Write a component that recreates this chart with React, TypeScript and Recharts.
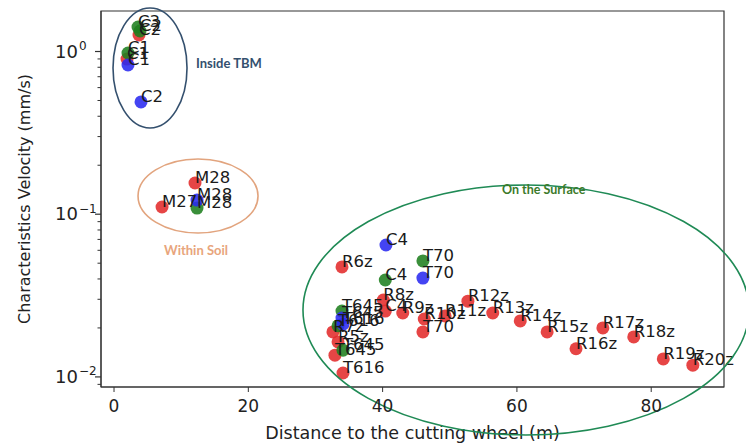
import { ScatterChart, Scatter, XAxis, YAxis, ReferenceDot, ReferenceArea } from 'recharts';

// distance to the cutting wheel (m), characteristic velocity (mm/s), point labels
const redLabels = ['C2', 'C1', 'M28', 'M27', 'R6z', 'R8z', 'C4', 'R9z', 'R10z', 'R11z', 'T70', 'R12z', 'R13z', 'R14z', 'R15z', 'R16z', 'R17z', 'R18z', 'R19z', 'R20z', 'R7z', 'R5z', 'T645', 'T616'];
const redDist = [3.72, 1.94, 12.06, 7.15, 33.95, 40.1, 40.4, 43.0, 46.2, 49.3, 46.0, 52.7, 56.4, 60.5, 64.5, 68.8, 72.8, 77.4, 81.8, 86.2, 32.6, 33.36, 32.9, 34.1];
const redVel = [1.263, 0.899, 0.1555, 0.1107, 0.0474, 0.0297, 0.0254, 0.0247, 0.0227, 0.0237, 0.0189, 0.0292, 0.0247, 0.0221, 0.0189, 0.0149, 0.02, 0.0176, 0.0129, 0.0118, 0.0189, 0.0164, 0.0136, 0.01057];

const greenLabels = ['C3', 'C2', 'C1', 'M28', 'T70', 'C4', 'T645', 'T616', 'T645'];
const greenDist = [3.57, 3.87, 2.08, 12.36, 46.0, 40.4, 33.95, 33.36, 34.1];
const greenVel = [1.414, 1.337, 0.979, 0.109, 0.0516, 0.0394, 0.0254, 0.0206, 0.0146];

const blueLabels = ['C1', 'C2', 'M28', 'C4', 'T70', 'T645', 'T616'];
const blueDist = [2.08, 4.02, 12.36, 40.5, 46.0, 33.95, 34.1];
const blueVel = [0.826, 0.49, 0.1222, 0.0647, 0.0405, 0.023, 0.0211];

const xTicks = [0, 20, 40, 60, 80];
const yMajor = [1, 0.1, 0.01];
const yMinor = [0.009, 0.02, 0.03, 0.04, 0.05, 0.06, 0.07, 0.08, 0.09, 0.2, 0.3, 0.4, 0.5, 0.6, 0.7, 0.8, 0.9];
const yExp: Record<string, string> = { '1': '0', '0.1': '\u22121', '0.01': '\u22122' };

const toPoints = (labels: string[], xs: number[], ys: number[]) =>
  labels.map((label, i) => ({ x: xs[i], y: ys[i], label }));

const red = toPoints(redLabels, redDist, redVel);
const green = toPoints(greenLabels, greenDist, greenVel);
const blue = toPoints(blueLabels, blueDist, blueVel);
const all = [...red, ...green, ...blue];

const FONT = 'DejaVu Sans, sans-serif';
const X_DOMAIN = [-1.94, 90.84];
const Y_DOMAIN = [0.00867, 1.774];

const dot = (color: string) => (props: any) => (
  <circle cx={props.cx} cy={props.cy} r={6.5} fill={color} fillOpacity={0.88} />
);

const labelShape = (props: any) => (
  <text x={props.cx} y={props.cy} fontSize={16.5} fontFamily={FONT} fill="#1a1a1a">
    {props.payload.label}
  </text>
);

const ellipse = (rx: number, ry: number, color: string) => (props: any) => (
  <ellipse cx={props.cx} cy={props.cy} rx={rx} ry={ry} fill="none" stroke={color} strokeWidth={1.6} />
);

const note = (text: string, color: string, size: number) => (props: any) => (
  <text x={props.cx} y={props.cy} fontSize={size} fontWeight={700} fontFamily="Lato, sans-serif" fill={color}>
    {text}
  </text>
);

const YTick = (props: any) => {
  const { x, y, payload } = props;
  const v = payload.value;
  const major = yMajor.some((m) => Math.abs(m - v) < 1e-9);
  if (!major) {
    return <line x1={x - 3.5} x2={x} y1={y} y2={y} stroke="#333" strokeWidth={1} />;
  }
  return (
    <g>
      <line x1={x - 6} x2={x} y1={y} y2={y} stroke="#333" strokeWidth={1.2} />
      <text x={x - 23} y={y + 6} textAnchor="end" fontSize={18} fontFamily={FONT} fill="#222">10</text>
      <text x={x - 22} y={y - 1.5} fontSize={12} fontFamily={FONT} fill="#222">{yExp[String(v)]}</text>
    </g>
  );
};

const yTitle = (props: any) => {
  const vb = props.viewBox;
  const cx = 24;
  const cy = vb.y + vb.height / 2;
  return (
    <text x={cx} y={cy} transform={`rotate(-90 ${cx} ${cy})`} textAnchor="middle" dominantBaseline="central"
      fontSize={16} fontFamily={FONT} fill="#222">
      Characteristics Velocity (mm/s)
    </text>
  );
};

const xTitle = (props: any) => {
  const vb = props.viewBox;
  return (
    <text x={vb.x + vb.width / 2} y={vb.y + 52} textAnchor="middle" fontSize={17.5} fontFamily={FONT} fill="#222">
      Distance to the cutting wheel (m)
    </text>
  );
};

export default function App() {
  return (
    <div style={{ position: 'absolute', left: 0, top: 0, background: '#fff' }}>
      <ScatterChart width={746} height={444} margin={{ top: 11, right: 22, bottom: 0, left: 0 }}>
        <XAxis
          type="number"
          dataKey="x"
          domain={X_DOMAIN}
          ticks={xTicks}
          interval={0}
          height={57}
          tickSize={5}
          tickMargin={8}
          stroke="#333"
          tick={{ fill: '#222', fontSize: 17, fontFamily: FONT }}
          label={{ content: xTitle }}
        />
        <YAxis
          type="number"
          dataKey="y"
          scale="log"
          domain={Y_DOMAIN}
          ticks={[...yMajor, ...yMinor]}
          interval={0}
          width={101}
          tickSize={0}
          tickMargin={0}
          tickLine={false}
          stroke="#333"
          tick={<YTick />}
          label={{ content: yTitle }}
        />
        <ReferenceArea x1={X_DOMAIN[0]} x2={X_DOMAIN[1]} y1={Y_DOMAIN[0]} y2={Y_DOMAIN[1]}
          fill="none" stroke="#333" strokeWidth={1.2} ifOverflow="visible" />
        <Scatter data={red} fill="#e32b2b" shape={dot('#e32b2b')} isAnimationActive={false} />
        <Scatter data={green} fill="#1f7f1f" shape={dot('#1f7f1f')} isAnimationActive={false} />
        <Scatter data={blue} fill="#2a2af0" shape={dot('#2a2af0')} isAnimationActive={false} />
        <Scatter data={all} fill="none" shape={labelShape} isAnimationActive={false} />
        <ReferenceDot x={5.36} y={0.792} ifOverflow="visible" shape={ellipse(37, 60, '#34506e')} />
        <ReferenceDot x={12.51} y={0.1294} ifOverflow="visible" shape={ellipse(60, 37, '#e2a47e')} />
        <ReferenceDot x={61.35} y={0.0258} ifOverflow="visible" shape={ellipse(223, 125, '#1f8a55')} />
        <ReferenceDot x={12.21} y={0.792} ifOverflow="visible" shape={note('Inside TBM', '#34506e', 13)} />
        <ReferenceDot x={7.45} y={0.0561} ifOverflow="visible" shape={note('Within Soil', '#e8a57c', 13)} />
        <ReferenceDot x={57.78} y={0.133} ifOverflow="visible" shape={note('On the Surface', '#3b7a2a', 12.5)} />
      </ScatterChart>
    </div>
  );
}
